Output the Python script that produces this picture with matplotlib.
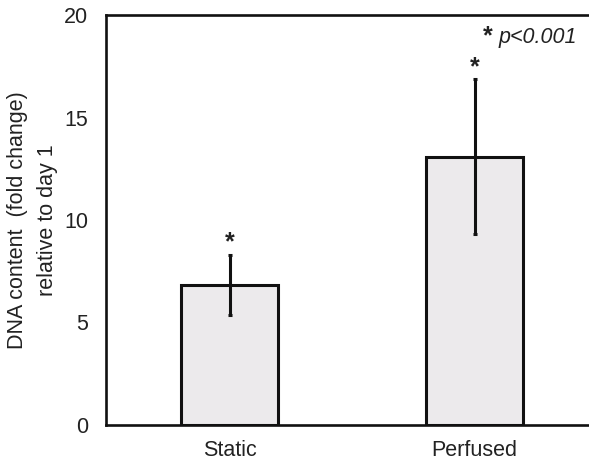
import numpy as np
import matplotlib.pyplot as plt

plt.rcParams['font.family'] = ['Liberation Sans', 'DejaVu Sans']

# fold change in DNA content relative to day 1
groups = ['Static', 'Perfused']
means = [6.83, 13.09]
errors = [1.48, 3.78]
significant = [True, True]

fig = plt.figure(figsize=(5.89, 4.63), dpi=100)
ax = fig.add_axes([106 / 589, 1 - 425 / 463, 1 - 106 / 589, 410 / 463])

x = np.arange(len(groups))
ax.bar(x, means, width=0.396, color='#ECEAEC', edgecolor='#111111',
       linewidth=2.2, zorder=2)
ax.errorbar(x, means, yerr=errors, fmt='none', ecolor='#111111',
            elinewidth=2.2, capsize=1.2, capthick=2.2, zorder=3)

# significance markers above the error bars
for xi, m, e, sig in zip(x, means, errors, significant):
    if sig:
        ax.text(xi, m + e + 0.6, '*', ha='center', va='center',
                fontsize=18, fontweight='bold', color='#222222')

ax.text(1.055, 18.95, '*', ha='center', va='center', fontsize=18,
        fontweight='bold', color='#222222')
ax.text(1.098, 18.9, 'p<0.001', ha='left', va='center', fontsize=15.5,
        style='italic', color='#222222')

ax.set_xlim(-0.504, 1.467)
ax.set_ylim(0, 20)
ax.set_yticks([0, 5, 10, 15, 20])
ax.set_xticks(x)
ax.set_xticklabels(groups)
ax.tick_params(axis='y', length=0, pad=13, labelsize=15.5, colors='#222222')
ax.tick_params(axis='x', length=0, pad=11, labelsize=15.5, colors='#222222')

ax.spines['right'].set_visible(False)
for side in ['left', 'bottom', 'top']:
    ax.spines[side].set_linewidth(1.9)
    ax.spines[side].set_color('#111111')

ax.set_ylabel('DNA content  (fold change)\nrelative to day 1', fontsize=15.5,
              linespacing=1.55, labelpad=4, color='#222222')

fig.savefig('out.png', dpi=100)
